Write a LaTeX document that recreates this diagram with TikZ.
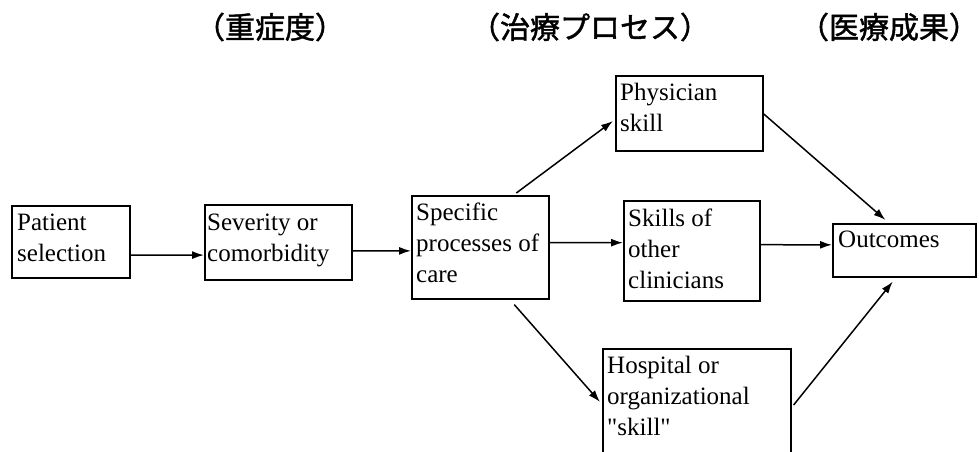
\documentclass[tikz,border=0pt]{standalone}
\usepackage{fontspec}
\newfontfamily\boxfont{Liberation Serif}
\newfontfamily\jpfont[FakeBold=1.5]{Noto Sans CJK JP}
\usetikzlibrary{arrows.meta,calc}
\tikzset{
  boxnode/.style={draw, line width=1.6pt, inner sep=0pt, anchor=north west},
  lbl/.style={inner sep=0pt, anchor=north west, align=left, font={\boxfont\fontsize{25}{31}\selectfont}},
  hdr/.style={inner sep=0pt, font={\jpfont\fontsize{30}{34}\selectfont}},
  arr/.style={line width=1.5pt, -{Latex[length=12pt,width=8pt]}}
}
\newcommand{\fl}{\rule{0pt}{21pt}}
\newcommand{\tightpar}[1]{\kern-0.4em#1\kern-0.4em}
\begin{document}
\begin{tikzpicture}[x=1pt,y=-1pt]
\fill[white] (0,0) rectangle (979,452);
\clip (0,0) rectangle (979,452);
% headers
\node[hdr] (h1) at (270,27) {\tightpar{（重症度）}};
\node[hdr] (h2) at (590,27) {\tightpar{（治療プロセス）}};
\node[hdr] (h3) at (889,27) {\tightpar{（医療成果）}};
% boxes
\node[boxnode, minimum width=118pt, minimum height=72pt] (pat) at (11,205) {};
\node[boxnode, minimum width=147pt, minimum height=75pt] (sev) at (204,204) {};
\node[boxnode, minimum width=137pt, minimum height=103pt] (spec) at (411,195) {};
\node[boxnode, minimum width=147pt, minimum height=75pt] (phys) at (615,75) {};
\node[boxnode, minimum width=136pt, minimum height=100pt] (oth) at (623,200) {};
\node[boxnode, minimum width=143pt, minimum height=53pt] (out) at (832,223) {};
\node[boxnode, minimum width=188pt, minimum height=130pt] (hosp) at (602,348) {};
% labels
\node[lbl] (tpat) at (17,209) {\fl Patient\\selection};
\node[lbl] (tsev) at (207,209) {\fl Severity or\\comorbidity};
\node[lbl] (tspec) at (416,199) {\fl Specific\\processes of\\care};
\node[lbl] (tphys) at (620,79) {\fl Physician\\skill};
\node[lbl] (toth) at (628,205) {\fl Skills of\\other\\clinicians};
\node[lbl] (tout) at (838,226) {\fl Outcomes};
\node[lbl] (thosp) at (607,352) {\fl Hospital or\\organizational\\"skill"};
% connectors
\draw[arr] ($(pat.north east)!0.68!(pat.south east)$) -- ($(sev.north west)!0.667!(sev.south west)$);
\draw[arr] ($(sev.north east)!0.613!(sev.south east)$) -- ($(spec.north west)!0.534!(spec.south west)$);
\draw[arr] ($(spec.north east)!0.456!(spec.south east)$) -- ($(oth.north west)!0.42!(oth.south west)$);
\draw[arr] ($(oth.north east)!0.44!(oth.south east)$) -- ($(out.north west)!0.40!(out.south west)$);
\draw[arr] ($(spec.north west)!0.76!(spec.north east)+(0,-2)$) -- ($(phys.north west)!0.6!(phys.south west)+(-2,0)$);
\draw[arr] ($(phys.north east)!0.507!(phys.south east)$) -- ($(out.north west)!0.37!(out.north east)+(0,-3)$);
\draw[arr] ($(spec.south west)!0.745!(spec.south east)+(0,5)$) -- ($(hosp.north west)+(-2,54)$);
\draw[arr] ($(hosp.north east)+(2,57)$) -- ($(out.south west)!0.42!(out.south east)+(0,4)$);
\end{tikzpicture}
\end{document}
